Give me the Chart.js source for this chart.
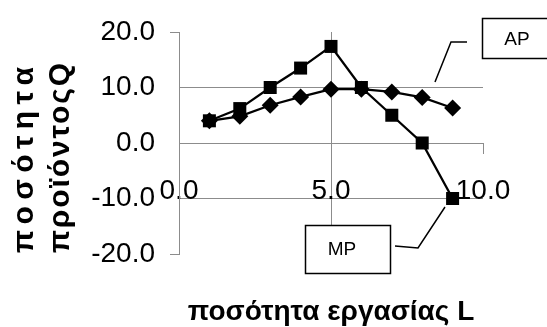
<!DOCTYPE html>
<html>
<head>
<meta charset="utf-8">
<script src="https://cdn.jsdelivr.net/npm/chart.js@4/dist/chart.umd.min.js"></script>
<style>
  html, body { margin: 0; padding: 0; background: #ffffff; }
  #chart { display: block; }
</style>
</head>
<body>
<canvas id="chart" width="547" height="327"></canvas>
<script>
// Labour units (L) and the two product curves
const labourUnits = [1, 2, 3, 4, 5, 6, 7, 8, 9];
const marginalProduct = [4, 6.2, 10, 13.5, 17.4, 10, 5, 0, -10];
const averageProduct = [4, 4.8, 6.8, 8.3, 9.7, 9.7, 9.2, 8.2, 6.3];

const xTicks = [0, 5, 10];
const yTicks = [-20, -10, 0, 10, 20];

const xTitle = 'ποσότητα εργασίας L';
const yTitleLines = ['ποσότητα', 'προϊόντοςQ'];
const seriesNames = ['MP', 'AP'];

const GRID = '#8c8c8c';
const FONT = "'Liberation Sans', Arial, sans-serif";

function toPoints(values) {
  return labourUnits.map((l, i) => ({ x: l, y: values[i] }));
}

// Axis titles and the callout labels for the two curves
const decorations = {
  id: 'decorations',
  afterDraw(chart) {
    const ctx = chart.ctx;
    ctx.save();
    ctx.fillStyle = '#000';
    ctx.strokeStyle = '#000';

    // x-axis title, centred on the plot area
    ctx.font = 'bold 28px ' + FONT;
    ctx.textAlign = 'center';
    ctx.textBaseline = 'alphabetic';
    ctx.fillText(xTitle, (chart.chartArea.left + chart.chartArea.right) / 2, 320);

    // y-axis title: two rotated, evenly spread lines starting from the lower end
    ctx.save();
    ctx.font = 'bold 30px ' + FONT;
    ctx.translate(0, 253);
    ctx.rotate(-Math.PI / 2);
    ctx.textAlign = 'left';
    const baselines = [33, 69];
    const spans = [186, 190];
    yTitleLines.forEach((line, i) => {
      ctx.letterSpacing = '0px';
      const w = ctx.measureText(line).width;
      const n = [...line].length;
      const sp = Math.max(0, (spans[i] - w) / (n - 1));
      ctx.letterSpacing = sp.toFixed(2) + 'px';
      ctx.fillText(line, 0, baselines[i]);
    });
    ctx.letterSpacing = '0px';
    ctx.restore();

    // callout boxes
    ctx.lineWidth = 1.5;
    ctx.font = '19px ' + FONT;
    ctx.textBaseline = 'middle';
    ctx.textAlign = 'center';

    // AP callout
    ctx.fillStyle = '#fff';
    ctx.fillRect(482.5, 18.5, 70, 40);
    ctx.strokeRect(482.5, 18.5, 70, 40);
    ctx.fillStyle = '#000';
    ctx.fillText(seriesNames[1], 517, 40);
    ctx.beginPath();
    ctx.moveTo(467, 42);
    ctx.lineTo(451, 42);
    ctx.lineTo(435, 82);
    ctx.stroke();

    // MP callout
    ctx.fillStyle = '#fff';
    ctx.fillRect(305.5, 225.5, 85, 48);
    ctx.strokeRect(305.5, 225.5, 85, 48);
    ctx.fillStyle = '#000';
    ctx.fillText(seriesNames[0], 342, 250);
    ctx.beginPath();
    ctx.moveTo(395, 246);
    ctx.lineTo(418, 248);
    ctx.lineTo(445, 207);
    ctx.stroke();

    ctx.restore();
  }
};

new Chart(document.getElementById('chart'), {
  type: 'scatter',
  data: {
    datasets: [
      {
        label: seriesNames[0],
        data: toPoints(marginalProduct),
        showLine: true,
        borderColor: '#000',
        backgroundColor: '#000',
        borderWidth: 2.3,
        pointStyle: 'rect',
        pointRadius: 9.2,
        pointBorderWidth: 0,
        clip: false
      },
      {
        label: seriesNames[1],
        data: toPoints(averageProduct),
        showLine: true,
        borderColor: '#000',
        backgroundColor: '#000',
        borderWidth: 2.3,
        pointStyle: 'rectRot',
        pointRadius: 8.5,
        pointBorderWidth: 0,
        clip: false
      }
    ]
  },
  options: {
    responsive: false,
    animation: false,
    devicePixelRatio: 1,
    layout: { padding: { top: 32, bottom: 73, left: 0, right: 64 } },
    plugins: {
      legend: { display: false },
      tooltip: { enabled: false }
    },
    scales: {
      x: {
        type: 'linear',
        min: 0,
        max: 10,
        position: { y: 0 },
        afterBuildTicks: s => { s.ticks = xTicks.map(v => ({ value: v })); },
        ticks: {
          callback: v => Number(v).toFixed(1),
          font: { family: FONT, size: 28 },
          color: '#000',
          padding: 21,
          autoSkip: false,
          maxRotation: 0
        },
        grid: {
          color: c => (c.tick && c.tick.value === 5 ? GRID : 'rgba(0,0,0,0)'),
          tickColor: GRID,
          tickLength: 10,
          lineWidth: 1
        },
        border: { color: GRID, width: 1 }
      },
      y: {
        type: 'linear',
        min: -20,
        max: 20,
        afterBuildTicks: s => { s.ticks = yTicks.map(v => ({ value: v })); },
        afterFit: s => { s.width = 179; },
        ticks: {
          callback: v => Number(v).toFixed(1),
          font: { family: FONT, size: 28 },
          color: '#000',
          padding: 15
        },
        grid: {
          color: c => (c.tick && Math.abs(c.tick.value) === 20 ? 'rgba(0,0,0,0)' : GRID),
          tickColor: c => (c.tick && Math.abs(c.tick.value) === 20 ? GRID : 'rgba(0,0,0,0)'),
          tickLength: 9,
          lineWidth: 1
        },
        border: { color: GRID, width: 1 }
      }
    }
  },
  plugins: [decorations]
});
</script>
</body>
</html>
